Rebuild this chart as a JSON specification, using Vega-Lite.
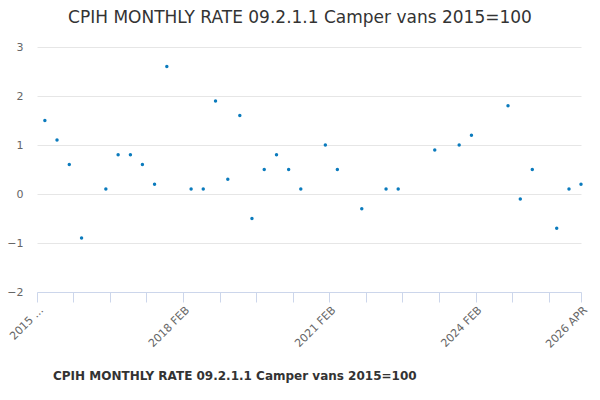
{
  "$schema": "https://vega.github.io/schema/vega-lite/v6.json",
  "width": 544,
  "height": 245,
  "autosize": {"type": "none"},
  "padding": {"left": 37, "top": 47, "right": 19, "bottom": 108},
  "background": "white",
  "config": {"view": {"stroke": null}},
  "title": {"text": "CPIH MONTHLY RATE 09.2.1.1 Camper vans 2015=100", "fontSize": 17, "font": "DejaVu Sans", "fontWeight": "normal", "color": "#333333", "offset": 14, "dx": -9},
  "data": {"values": [
    {"d": "2015-04-01", "v": 1.5}, {"d": "2015-07-01", "v": 1.1}, {"d": "2015-10-01", "v": 0.6},
    {"d": "2016-01-01", "v": -0.9}, {"d": "2016-07-01", "v": 0.1}, {"d": "2016-10-01", "v": 0.8},
    {"d": "2017-01-01", "v": 0.8}, {"d": "2017-04-01", "v": 0.6}, {"d": "2017-07-01", "v": 0.2},
    {"d": "2017-10-01", "v": 2.6}, {"d": "2018-04-01", "v": 0.1}, {"d": "2018-07-01", "v": 0.1},
    {"d": "2018-10-01", "v": 1.9}, {"d": "2019-01-01", "v": 0.3}, {"d": "2019-04-01", "v": 1.6},
    {"d": "2019-07-01", "v": -0.5}, {"d": "2019-10-01", "v": 0.5}, {"d": "2020-01-01", "v": 0.8},
    {"d": "2020-04-01", "v": 0.5}, {"d": "2020-07-01", "v": 0.1}, {"d": "2021-01-01", "v": 1.0},
    {"d": "2021-04-01", "v": 0.5}, {"d": "2021-10-01", "v": -0.3}, {"d": "2022-04-01", "v": 0.1},
    {"d": "2022-07-01", "v": 0.1}, {"d": "2023-04-01", "v": 0.9}, {"d": "2023-10-01", "v": 1.0},
    {"d": "2024-01-01", "v": 1.2}, {"d": "2024-10-01", "v": 1.8}, {"d": "2025-01-01", "v": -0.1},
    {"d": "2025-04-01", "v": 0.5}, {"d": "2025-10-01", "v": -0.7}, {"d": "2026-01-01", "v": 0.1},
    {"d": "2026-04-01", "v": 0.2}
  ]},
  "transform": [{"calculate": "'CPIH MONTHLY RATE 09.2.1.1 Camper vans 2015=100'", "as": "series"}],
  "mark": {"type": "point", "filled": true, "size": 12, "opacity": 1},
  "encoding": {
    "x": {"field": "d", "type": "temporal", "title": null,
      "scale": {"domain": ["2015-02-01", "2026-04-01"]},
      "axis": {"grid": false, "domainColor": "#ccd6eb", "tickColor": "#ccd6eb", "tickSize": 10,
        "values": ["2015-02-01","2015-11-01","2016-08-01","2017-05-01","2018-02-01","2018-11-01","2019-08-01","2020-05-01","2021-02-01","2021-11-01","2022-08-01","2023-05-01","2024-02-01","2024-11-01","2025-08-01","2026-04-01"],
        "labelExpr": "(utcyear(datum.value)==2015 && utcmonth(datum.value)==1) ? '2015 ...' : (utcyear(datum.value)==2018 && utcmonth(datum.value)==1) ? '2018 FEB' : (utcyear(datum.value)==2021 && utcmonth(datum.value)==1) ? '2021 FEB' : (utcyear(datum.value)==2024 && utcmonth(datum.value)==1) ? '2024 FEB' : (utcyear(datum.value)==2026 && utcmonth(datum.value)==3) ? '2026 APR' : ''",
        "labelAngle": -45, "labelAlign": "right", "labelBaseline": "top", "labelColor": "#666666", "labelFontSize": 11, "labelFont": "DejaVu Sans", "labelOverlap": false, "labelPadding": 2}},
    "y": {"field": "v", "type": "quantitative", "title": null,
      "scale": {"domain": [-2, 3], "nice": false},
      "axis": {"values": [-2,-1,0,1,2,3], "domain": false, "ticks": false, "gridColor": "#e6e6e6", "labelColor": "#666666", "labelFontSize": 11, "labelFont": "DejaVu Sans", "labelPadding": 14}},
    "color": {"field": "series", "type": "nominal", "scale": {"range": ["#0b7bbd"]},
      "legend": {"orient": "bottom", "title": null, "symbolType": "stroke", "labelFontSize": 12, "labelFontWeight": "bold", "labelColor": "#333333", "labelFont": "DejaVu Sans", "offset": 20, "labelLimit": 500}}
  }
}
